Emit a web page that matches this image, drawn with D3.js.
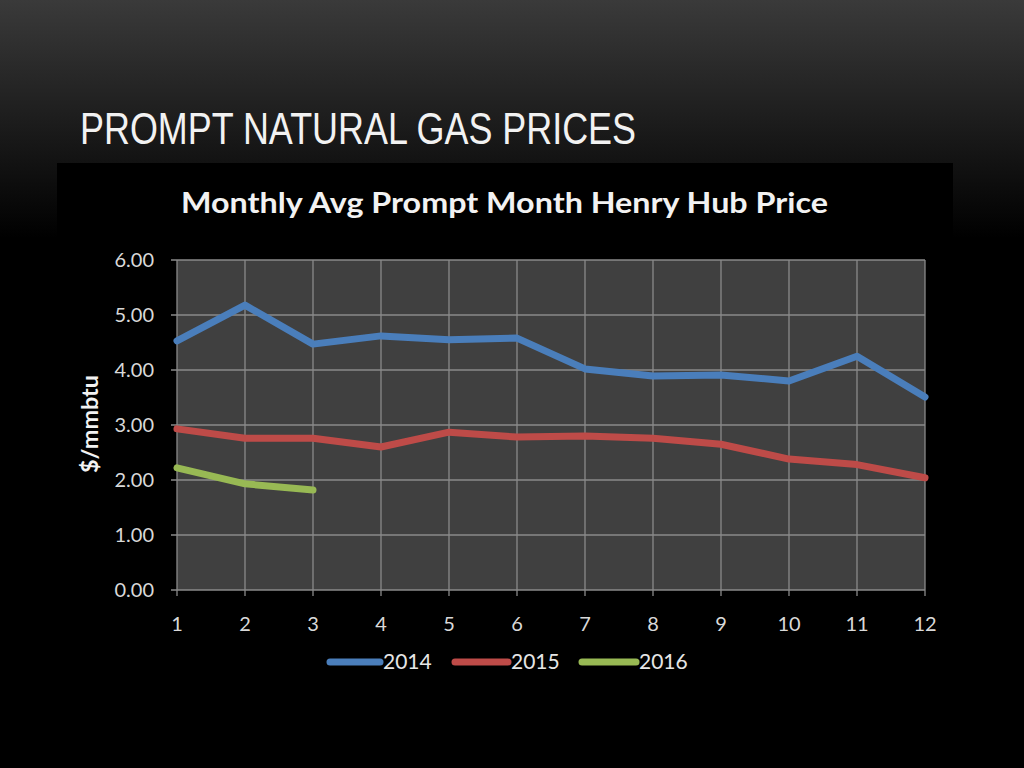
<!DOCTYPE html>
<html><head><meta charset="utf-8">
<script src="https://cdn.jsdelivr.net/npm/d3@7"></script>
<style>html,body{margin:0;padding:0;background:#000;}svg{display:block;}</style>
</head><body>
<script>
const months = [1,2,3,4,5,6,7,8,9,10,11,12];
const yTicks = [0,1,2,3,4,5,6];
const seriesNames = ["2014","2015","2016"];
const v2014 = [4.53,5.18,4.47,4.62,4.55,4.58,4.02,3.89,3.91,3.80,4.25,3.51];
const v2015 = [2.93,2.76,2.76,2.60,2.87,2.78,2.80,2.76,2.65,2.38,2.28,2.04];
const v2016 = [2.22,1.93,1.82];
const colors = ["#4a7ebb","#be4b48","#98b954"];

const W=1024,H=768;
const svg=d3.select("body").append("svg").attr("width",W).attr("height",H);
const defs=svg.append("defs");
const g=defs.append("linearGradient").attr("id","bg").attr("x1",0).attr("y1",0).attr("x2",0).attr("y2",1);
g.append("stop").attr("offset","0").attr("stop-color","#3a3a3a");
g.append("stop").attr("offset","0.31").attr("stop-color","#000");
g.append("stop").attr("offset","1").attr("stop-color","#000");
svg.append("rect").attr("width",W).attr("height",H).attr("fill","url(#bg)");

svg.append("text").attr("x",80).attr("y",144)
  .attr("font-family","'Liberation Sans Narrow','Arial Narrow','Liberation Sans',sans-serif")
  .attr("font-size",44).attr("fill","#f2f2f2")
  .attr("textLength",556).attr("lengthAdjust","spacingAndGlyphs")
  .text("PROMPT NATURAL GAS PRICES");

svg.append("rect").attr("x",57).attr("y",163).attr("width",896).attr("height",560).attr("fill","#000");

svg.append("text").attr("x",181).attr("y",213)
  .attr("font-family","Lato,'Open Sans',sans-serif").attr("font-weight","bold")
  .attr("font-size",29).attr("fill","#f2f2f2")
  .attr("textLength",647).attr("lengthAdjust","spacingAndGlyphs")
  .text("Monthly Avg Prompt Month Henry Hub Price");

const x=d3.scaleLinear().domain([1,12]).range([177,925]);
const y=d3.scaleLinear().domain([0,6]).range([590,260]);

svg.append("rect").attr("x",x(1)).attr("y",y(6)).attr("width",x(12)-x(1)).attr("height",y(0)-y(6)).attr("fill","#404040");

const gridColor="#8a8a8a";
svg.append("g").selectAll("line").data(yTicks).join("line")
  .attr("x1",x(1)-6).attr("x2",x(12)).attr("y1",d=>y(d)).attr("y2",d=>y(d))
  .attr("stroke",gridColor).attr("stroke-width",1.3);
svg.append("g").selectAll("line").data(months).join("line")
  .attr("x1",d=>x(d)).attr("x2",d=>x(d)).attr("y1",y(6)).attr("y2",y(0)+6)
  .attr("stroke",gridColor).attr("stroke-width",1.3);

const font="Lato,'Open Sans',sans-serif";
svg.append("g").selectAll("text").data(yTicks).join("text")
  .attr("x",x(1)-23).attr("y",d=>y(d)+7).attr("text-anchor","end")
  .attr("font-family",font).attr("font-size",20).attr("fill","#d9d9d9")
  .text(d=>d3.format(".2f")(d));
svg.append("g").selectAll("text").data(months).join("text")
  .attr("x",d=>x(d)).attr("y",631).attr("text-anchor","middle")
  .attr("font-family",font).attr("font-size",20).attr("fill","#d9d9d9")
  .text(d=>d);

svg.append("text").attr("transform","translate(98,424) rotate(-90)").attr("text-anchor","middle")
  .attr("font-family",font).attr("font-weight","bold").attr("font-size",22).attr("fill","#f2f2f2")
  .attr("textLength",98).attr("lengthAdjust","spacingAndGlyphs").text("$/mmbtu");

const line=d3.line().x((d,i)=>x(months[i])).y(d=>y(d));
[v2014,v2015,v2016].forEach((s,k)=>{
  svg.append("path").datum(s).attr("d",line).attr("fill","none")
    .attr("stroke",colors[k]).attr("stroke-width",7).attr("stroke-linejoin","round")
    .attr("stroke-linecap","round");
});

const legX=[[330,380],[455,508],[582,636]];
seriesNames.forEach((n,k)=>{
  svg.append("line").attr("x1",legX[k][0]).attr("x2",legX[k][1]).attr("y1",662).attr("y2",662)
    .attr("stroke",colors[k]).attr("stroke-width",7).attr("stroke-linecap","round");
  svg.append("text").attr("x",legX[k][1]+3).attr("y",669).attr("font-family",font)
    .attr("font-size",21).attr("fill","#e6e6e6").text(n);
});
</script>
</body></html>
